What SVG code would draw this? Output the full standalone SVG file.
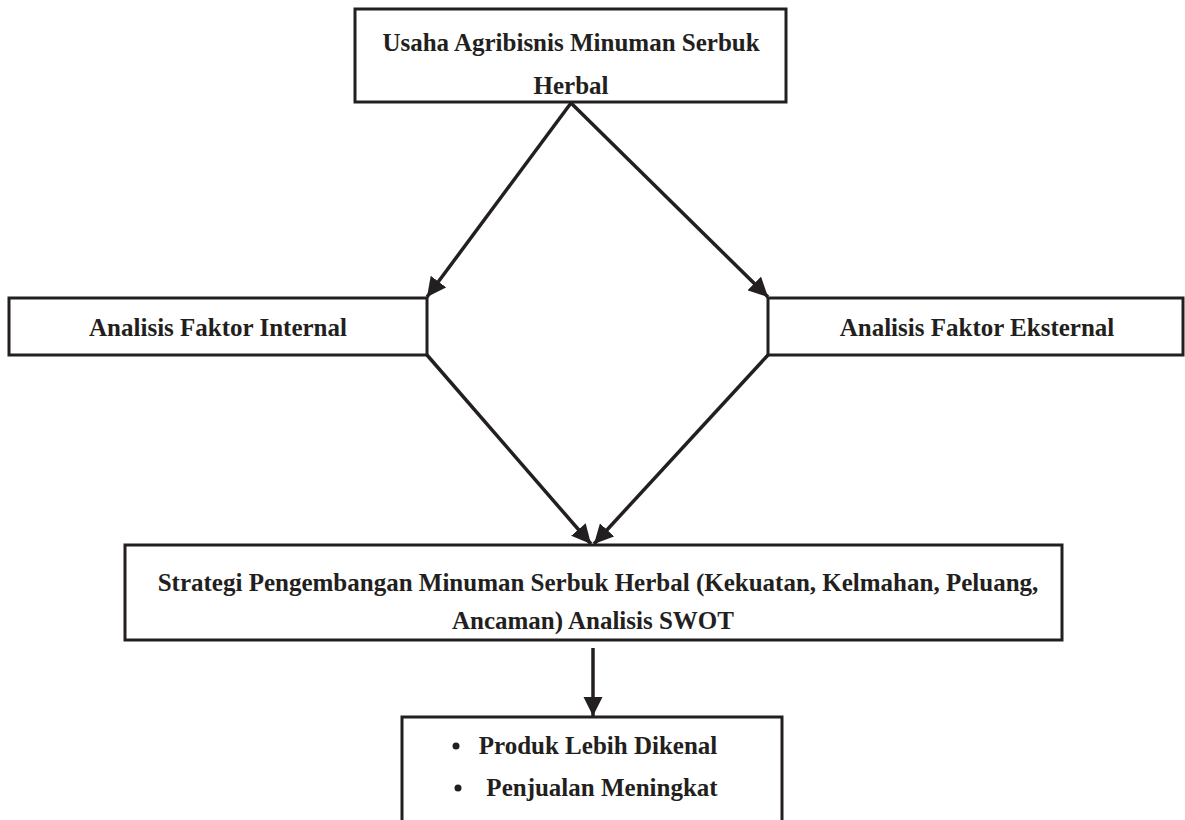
<svg xmlns="http://www.w3.org/2000/svg" width="1185" height="820" viewBox="0 0 1185 820">
<style>
.box{fill:#ffffff;stroke:#231f20;stroke-width:3}
.t{font-family:"Liberation Serif","Times New Roman",serif;font-weight:bold;font-size:25px;fill:#231f20;text-anchor:middle}
.c{fill:none;stroke:#231f20;stroke-width:3.5}
</style>
<defs>
<marker id="ah" viewBox="0 0 10 10" refX="10" refY="5" markerWidth="5.5" markerHeight="5.5" markerUnits="strokeWidth" orient="auto">
<path d="M0,0 L10,5 L0,10 z" fill="#231f20"/>
</marker>
</defs>
<rect width="1185" height="820" fill="#ffffff"/>
<g id="n-usaha">
<rect class="box" x="355" y="9" width="431" height="93"/>
<text class="t" x="571" y="51">Usaha Agribisnis Minuman Serbuk</text>
<text class="t" x="571" y="94">Herbal</text>
</g>
<g id="n-internal">
<rect class="box" x="9" y="298" width="418" height="57"/>
<text class="t" x="218" y="336">Analisis Faktor Internal</text>
</g>
<g id="n-eksternal">
<rect class="box" x="768" y="298" width="415" height="57"/>
<text class="t" x="977" y="336">Analisis Faktor Eksternal</text>
</g>
<g id="n-strategi">
<rect class="box" x="125" y="545" width="937" height="95"/>
<text class="t" x="598" y="591">Strategi Pengembangan Minuman Serbuk Herbal (Kekuatan, Kelmahan, Peluang,</text>
<text class="t" x="593" y="629">Ancaman) Analisis SWOT</text>
</g>
<g id="n-hasil">
<rect class="box" x="402" y="717" width="380" height="110"/>
<circle cx="456" cy="746" r="3.5" fill="#231f20"/>
<text class="t" x="598" y="754">Produk Lebih Dikenal</text>
<circle cx="458" cy="788" r="3.5" fill="#231f20"/>
<text class="t" x="602" y="796">Penjualan Meningkat</text>
</g>
<g id="connectors">
<path class="c" d="M571,103 L427,297" marker-end="url(#ah)"/>
<path class="c" d="M571,103 L768,297" marker-end="url(#ah)"/>
<path class="c" d="M427,355 L591,544" marker-end="url(#ah)"/>
<path class="c" d="M768,355 L594,544" marker-end="url(#ah)"/>
<path class="c" d="M593,648 L593,716" marker-end="url(#ah)"/>
</g>
</svg>
